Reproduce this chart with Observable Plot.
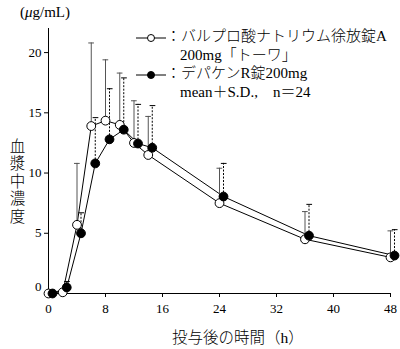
<!DOCTYPE html>
<html><head><meta charset="utf-8">
<script src="https://cdn.jsdelivr.net/npm/d3@7"></script>
<script src="https://cdn.jsdelivr.net/npm/@observablehq/plot@0.6"></script>
<style>
body{margin:0;background:#fff;}
#wrap{position:relative;width:400px;height:349px;font-family:"Liberation Serif","Noto Sans CJK JP",serif;color:#000;}
.abs{position:absolute;white-space:nowrap;line-height:1;font-weight:300;}
</style></head><body><div id="wrap"></div>
<script>
// sampling times (h)
const times = [0, 2, 4, 6, 8, 10, 12, 14, 24, 36, 48];
// バルプロ酸ナトリウム徐放錠A 200mg「トーワ」 (open circles)
const meanA = [0, 0.1, 5.7, 13.9, 14.35, 14.0, 12.5, 11.5, 7.5, 4.5, 3.0];
const sdA   = [0, 0, 5.1, 6.9, 5.05, 4.3, 3.5, 3.2, 2.9, 2.3, 2.2];
// デパケンR錠200mg (filled circles)
const meanB = [0, 0.5, 5.0, 10.8, 12.8, 13.6, 12.45, 12.1, 8.05, 4.8, 3.15];
const sdB   = [0, 0.5, 1.7, 3.8, 4.2, 4.3, 3.25, 3.5, 2.75, 2.6, 2.15];
const xTicks = [0, 8, 16, 24, 32, 40, 48];
const yTicks = [5, 10, 15, 20];
const seriesLabels = ["：バルプロ酸ナトリウム徐放錠A", "200mg「トーワ」", "：デパケンR錠200mg", "mean＋S.D.,　n＝24"];
const xTitle = "投与後の時間（h）";
const yTitle = "血漿中濃度";

const rowsA = times.map((t, i) => ({t, m: meanA[i], sd: sdA[i], top: meanA[i] + sdA[i]}));
const rowsB = times.map((t, i) => ({t, m: meanB[i], sd: sdB[i], top: meanB[i] + sdB[i]}));
const barsA = rowsA.filter(d => d.sd > 0);
const barsB = rowsB.filter(d => d.sd > 0);
const off = 4;

const plot = Plot.plot({
  width: 400, height: 349,
  marginLeft: 48, marginRight: 10, marginTop: 28, marginBottom: 56,
  style: {fontFamily: '"Liberation Serif","Noto Sans CJK JP",serif', fontSize: "13px", color: "#000", background: "transparent"},
  x: {domain: [0, 48]},
  y: {domain: [0, 22]},
  marks: [
    Plot.axisX({ticks: xTicks, tickSize: 4, tickPadding: 6, label: null}),
    Plot.axisY({ticks: yTicks, tickSize: 4, tickPadding: 3, label: null}),
    Plot.axisY({ticks: [0], tickSize: 0, tickPadding: 7, dy: -7, label: null}),
    Plot.ruleX([0], {stroke: "#000"}),
    Plot.ruleY([0], {stroke: "#000"}),
    Plot.line(rowsB, {x: "t", y: "m", dx: off, stroke: "#000", strokeWidth: 1}),
    Plot.line(rowsA, {x: "t", y: "m", stroke: "#000", strokeWidth: 1}),
    Plot.ruleX(barsA, {x: "t", y1: "m", y2: "top", stroke: "#555", strokeWidth: 1}),
    Plot.ruleY(barsA, {y: "top", x1: d => d.t - 0.35, x2: d => d.t + 0.45, stroke: "#555", strokeWidth: 1}),
    Plot.ruleX(barsB, {x: "t", y1: "m", y2: "top", dx: off, stroke: "#000", strokeWidth: 1, strokeDasharray: "2,1.5"}),
    Plot.ruleY(barsB, {y: "top", x1: d => d.t - 0.3, x2: d => d.t + 0.5, dx: off, stroke: "#000", strokeWidth: 1}),
    Plot.dot(rowsA, {x: "t", y: "m", r: 4.4, fill: "#fff", stroke: "#000", strokeWidth: 1}),
    Plot.dot(rowsB, {x: "t", y: "m", dx: off, r: 4.4, fill: "#000", stroke: "#000", strokeWidth: 1})
  ]
});
const wrap = document.getElementById("wrap");
wrap.appendChild(plot);

function add(html, css) {
  const d = document.createElement("div");
  d.className = "abs";
  d.innerHTML = html;
  Object.assign(d.style, css);
  wrap.appendChild(d);
  return d;
}
function marker(filled) {
  return `<svg width="30" height="10" style="vertical-align:middle"><line x1="0" y1="5" x2="30" y2="5" stroke="#000" stroke-width="1"/><circle cx="15" cy="5" r="3.5" fill="${filled ? "#000" : "#fff"}" stroke="#000"/></svg>`;
}
add('(<i>μ</i>g/mL)', {left: "20px", top: "5px", fontSize: "15px"});
add(yTitle, {left: "8px", top: "138px", fontSize: "15.5px", writingMode: "vertical-rl", letterSpacing: "2px"});
add(xTitle, {left: "238px", top: "330px", fontSize: "15.5px", transform: "translateX(-50%)"});
add(marker(false) + seriesLabels[0], {left: "136px", top: "29px", fontSize: "15px"});
add(seriesLabels[1], {left: "180px", top: "48px", fontSize: "15px"});
add(marker(true) + seriesLabels[2], {left: "136px", top: "66px", fontSize: "15px"});
add(seriesLabels[3], {left: "180px", top: "85px", fontSize: "15px"});
</script></body></html>
